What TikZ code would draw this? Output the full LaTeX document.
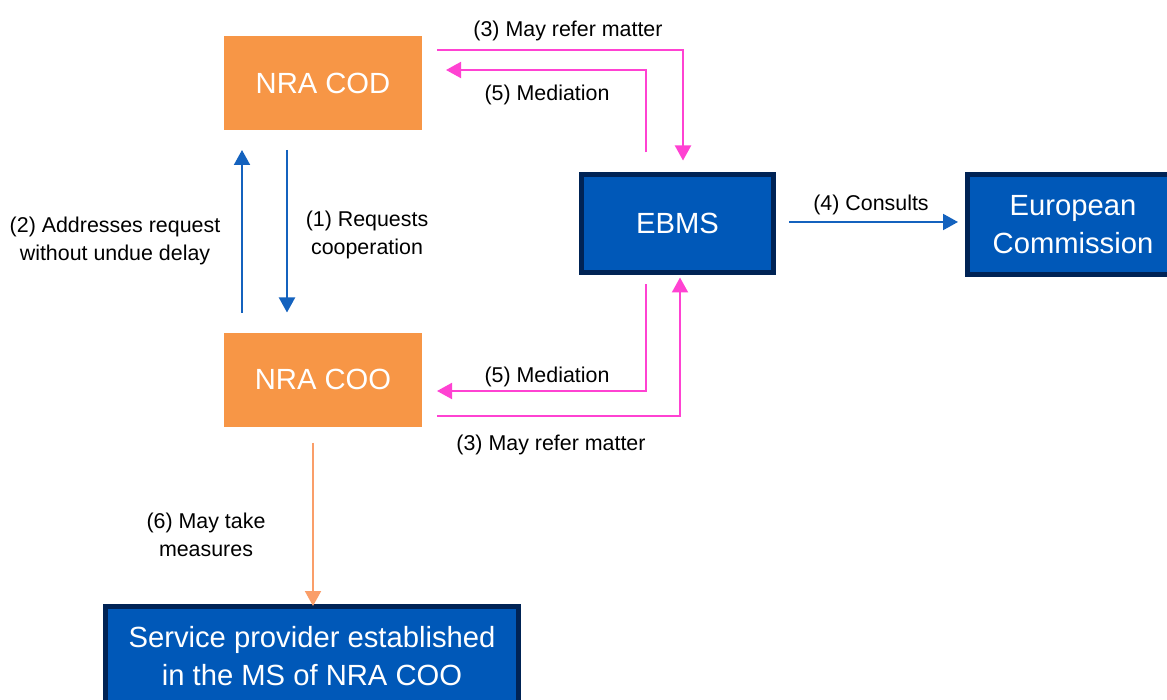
\documentclass[tikz,border=0pt]{standalone}
\usepackage{fontspec}
\setmainfont{Liberation Sans}
\usetikzlibrary{arrows.meta}

\definecolor{nraorange}{RGB}{247,150,70}
\definecolor{lightorange}{RGB}{250,158,105}
\definecolor{boxblue}{RGB}{0,88,184}
\definecolor{boxnavy}{RGB}{0,35,85}
\definecolor{arrowblue}{RGB}{20,98,190}
\definecolor{mediapink}{RGB}{255,66,210}

\tikzset{
	nrabox/.style = {fill = nraorange, text = white, minimum width = 99pt, minimum height = 47pt,
		outer sep = 0pt, font = \fontsize{14.6}{17.5}\selectfont},
	bodybox/.style = {fill = boxblue, draw = boxnavy, line width = 2.5pt, text = white, align = center,
		outer sep = 0pt, font = \fontsize{14.6}{19}\selectfont},
	lbl/.style = {align = center, font = \fontsize{10.7}{14}\selectfont},
	tip/.style = {-{Triangle[length = 7.5pt, width = 8pt]}, line width = 1pt},
	bluearrow/.style = {tip, arrowblue},
	pinkarrow/.style = {tip, mediapink},
	orangearrow/.style = {tip, lightorange}
}

\begin{document}
\begin{tikzpicture}[x = 0.5pt, y = -0.5pt]

	\useasboundingbox (0, 0) rectangle (1167, 700);

	% Authorities and bodies

	\node [nrabox] (cod) at (323, 83) {NRA COD};
	\node [nrabox] (coo) at (323, 379.5) {NRA COO};

	\node [bodybox, minimum width = 96pt, minimum height = 49pt] (ebms) at (677.5, 223.5) {EBMS};
	\node [bodybox, minimum width = 105.5pt, minimum height = 50pt] (ec) at (1073, 224.5) {European\\Commission};
	\node [bodybox, minimum width = 206.5pt, minimum height = 50pt] (sp) at (312, 656) {Service provider established\\in the MS of NRA COO};

	% Cooperation between the NRAs

	\draw [bluearrow] ([shift = {(-81, -20)}] coo.north) -- ([shift = {(-81, 20)}] cod.south);
	\draw [bluearrow] ([shift = {(-36, 20)}] cod.south) -- ([shift = {(-36, -20)}] coo.north);

	% Referrals and mediation

	\draw [pinkarrow] ([shift = {(15, -33)}] cod.east) -| ([shift = {(5.5, -14)}] ebms.north);
	\draw [pinkarrow] ([shift = {(-31.5, -22)}] ebms.north) |- ([shift = {(24, -13)}] cod.east);
	\draw [pinkarrow] ([shift = {(-31.5, 12)}] ebms.south) |- ([shift = {(15, 11.5)}] coo.east);
	\draw [pinkarrow] ([shift = {(15, 36.5)}] coo.east) -| ([shift = {(2.5, 5)}] ebms.south);

	% Consultation and measures

	\draw [bluearrow] ([shift = {(15.5, -1.5)}] ebms.east) -- ([shift = {(-9.5, -2.5)}] ec.west);
	\draw [orangearrow] ([shift = {(-10, 16)}] coo.south) -- ([shift = {(1, 0)}] sp.north);

	% Labels

	\node [lbl] (l2) at (115, 241) {(2) Addresses request\\without undue delay};
	\node [lbl] (l1) at (367, 235) {(1) Requests\\cooperation};
	\node [lbl] (l3top) at (568, 31) {(3) May refer matter};
	\node [lbl] (l5top) at (547, 95) {(5) Mediation};
	\node [lbl] (l5bot) at (547, 377) {(5) Mediation};
	\node [lbl] (l3bot) at (551, 445) {(3) May refer matter};
	\node [lbl] (l4) at (871, 205) {(4) Consults};
	\node [lbl] (l6) at (206, 535) {(6) May take\\measures};

\end{tikzpicture}
\end{document}
